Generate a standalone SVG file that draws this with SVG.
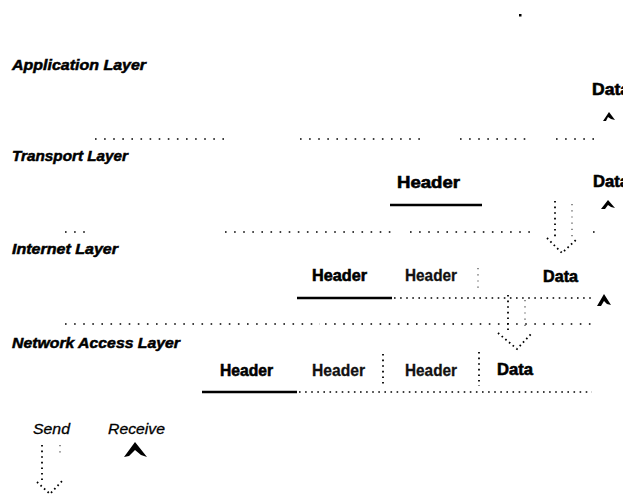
<svg xmlns="http://www.w3.org/2000/svg" width="623" height="497" viewBox="0 0 623 497">
  <style>
    .layer { font-family: "Liberation Sans", Arial, sans-serif; font-weight: bold; font-style: italic; font-size: 14.5px; fill: #000; stroke: #000; stroke-width: 0.5; }
    .hdr { font-family: "Liberation Sans", Arial, sans-serif; font-weight: bold; font-size: 16.5px; fill: #000; stroke: #000; stroke-width: 0.6; }
    .hdr-light { font-family: "Liberation Sans", Arial, sans-serif; font-weight: bold; font-size: 16.5px; fill: #111; stroke: #111; stroke-width: 0.3; }
    .key { font-family: "Liberation Sans", Arial, sans-serif; font-style: italic; font-size: 15px; fill: #000; stroke: #000; stroke-width: 0.3; }
    .sep { stroke: #000; stroke-width: 1.6; stroke-dasharray: 1.6 7.5; fill: none; }
    .sep-dense { stroke: #000; stroke-width: 1.6; stroke-dasharray: 1.6 4.5; fill: none; }
    .rule { stroke: #000; stroke-width: 2.6; fill: none; }
    .vdots { stroke: #000; stroke-width: 1.8; stroke-dasharray: 1.6 4; fill: none; }
    .vfaint { stroke: #444; stroke-width: 1.2; stroke-dasharray: 1.2 5; fill: none; }
    .head { fill: none; stroke: #000; stroke-width: 1.8; stroke-dasharray: 1.6 3.2; }
    .tip { fill: #000; stroke: none; }
  </style>

  <rect width="623" height="497" fill="#fff"/>
  <rect x="519" y="14" width="2.5" height="2.5" fill="#000"/>

  <!-- layer titles -->
  <g id="layer-application"><text class="layer" x="12" y="70" textLength="134" lengthAdjust="spacingAndGlyphs">Application Layer</text></g>
  <g id="layer-transport"><text class="layer" x="12" y="161" textLength="116" lengthAdjust="spacingAndGlyphs">Transport Layer</text></g>
  <g id="layer-internet"><text class="layer" x="12" y="254" textLength="106" lengthAdjust="spacingAndGlyphs">Internet Layer</text></g>
  <g id="layer-network"><text class="layer" x="12" y="348" textLength="168" lengthAdjust="spacingAndGlyphs">Network Access Layer</text></g>

  <!-- layer separators -->
  <g id="separators">
    <path class="sep" d="M95 139 H230 M300 139 H426 M460 139 H532 M556 139 H596"/>
    <path class="sep" d="M65 232 H90 M225 232 H392 M410 232 H530 M593 232 H597"/>
    <path class="sep" d="M65 324 H320 M325 324 H592"/>
  </g>

  <!-- application layer -->
  <g id="app-data"><text class="hdr" x="592" y="95" textLength="38" lengthAdjust="spacingAndGlyphs">Data</text></g>

  <!-- transport layer -->
  <g id="tcp-header">
    <text class="hdr" x="397" y="188" textLength="63" lengthAdjust="spacingAndGlyphs">Header</text>
    <path class="rule" d="M390 205 H482"/>
  </g>
  <g id="tcp-data"><text class="hdr" x="593" y="187" textLength="36" lengthAdjust="spacingAndGlyphs">Data</text></g>

  <!-- internet layer -->
  <g id="ip-header">
    <text class="hdr" x="312" y="281" textLength="55" lengthAdjust="spacingAndGlyphs">Header</text>
    <path class="rule" d="M297 298 H392"/>
  </g>
  <g id="ip-tcp-header"><text class="hdr-light" x="405" y="281" textLength="52" lengthAdjust="spacingAndGlyphs">Header</text></g>
  <g id="ip-data"><text class="hdr" x="543" y="282" textLength="35" lengthAdjust="spacingAndGlyphs">Data</text></g>

  <!-- network access layer -->
  <g id="net-header">
    <text class="hdr" x="220" y="376" textLength="53" lengthAdjust="spacingAndGlyphs">Header</text>
    <path class="rule" d="M202 392 H297"/>
  </g>
  <g id="net-ip-header"><text class="hdr-light" x="312" y="376" textLength="53" lengthAdjust="spacingAndGlyphs">Header</text></g>
  <g id="net-tcp-header"><text class="hdr-light" x="405" y="376" textLength="52" lengthAdjust="spacingAndGlyphs">Header</text></g>
  <g id="net-data"><text class="hdr" x="497" y="375" textLength="36" lengthAdjust="spacingAndGlyphs">Data</text></g>

  <!-- legend -->
  <g id="legend-send"><text class="key" x="33" y="434" textLength="37" lengthAdjust="spacingAndGlyphs">Send</text></g>
  <g id="legend-receive"><text class="key" x="108" y="434" textLength="57" lengthAdjust="spacingAndGlyphs">Receive</text></g>

  <!-- connectors: field dividers, frame trailers and flow arrows -->
  <g id="connectors">
    <!-- dotted continuation of the frame rules -->
    <path class="sep-dense" d="M394 298 H592"/>
    <path class="sep-dense" d="M299 392 H592"/>
    <!-- field dividers -->
    <path class="vfaint" d="M478 268 V290"/>
    <path class="vdots" d="M383 354 V386"/>
    <path class="vdots" d="M479 352 V386"/>

    <!-- send arrow: transport to internet -->
    <path class="vdots" d="M555 201 V240"/>
    <path class="vfaint" d="M572 204 V240"/>
    <path class="head" d="M547 238 L562 253 L578 238"/>

    <!-- send arrow: internet to network access -->
    <path class="vdots" d="M508 295 V330"/>
    <path class="vfaint" d="M525 300 V330"/>
    <path class="head" d="M498 333 L517 349 L532 333"/>

    <!-- receive arrowheads -->
    <path class="tip" d="M603 121 L609 112 L615 120 L611 119 L608 117 L606 121 Z"/>
    <path class="tip" d="M601 209 L608 200 L615 208 L611 207 L608 205 L605 209 Z"/>
    <path class="tip" d="M597 306 L604 294 L611 305 L607 304 L604 301 L601 306 Z"/>

    <!-- legend arrows -->
    <path class="vdots" d="M42 445 V480"/>
    <path class="vfaint" d="M60 445 V456"/>
    <path class="head" d="M37 482 L50 494 L63 480"/>
    <path class="tip" d="M124 457 L135 442 L147 457 L141 455 L135 450 L129 456 Z"/>
  </g>
</svg>
